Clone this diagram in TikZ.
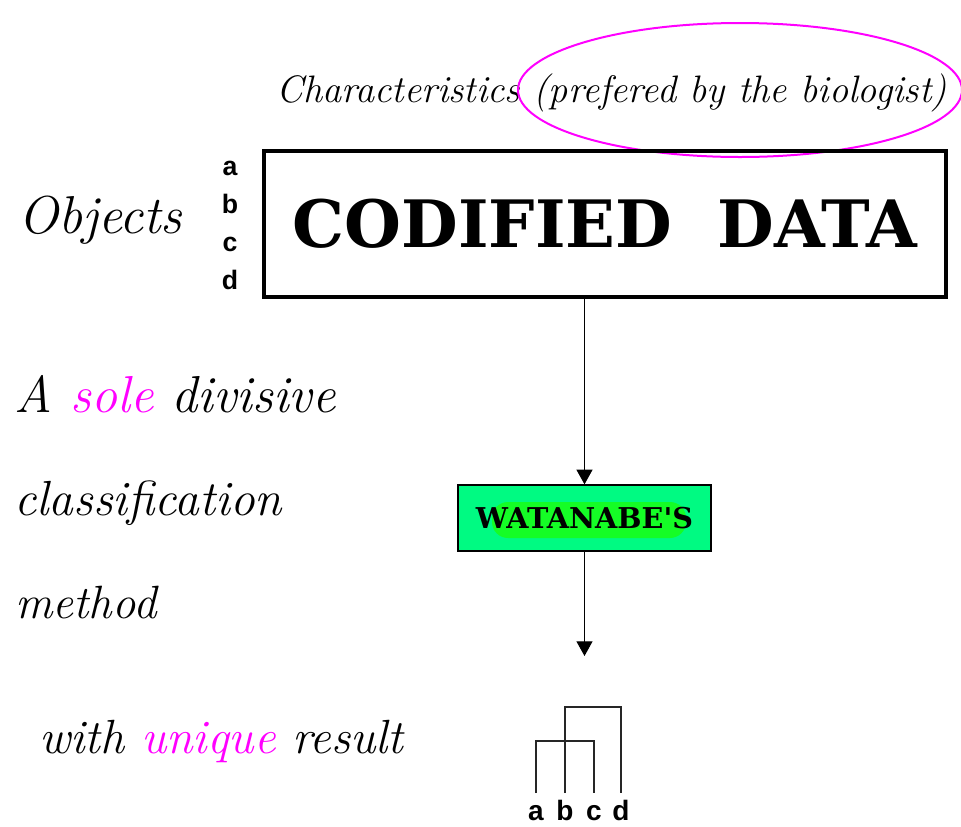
\documentclass[tikz,border=0pt]{standalone}
\usepackage{fontspec}
\newfontfamily\slabfont{DejaVu Serif}
\newfontfamily\lettersfont{Liberation Sans}
\usetikzlibrary{positioning,arrows.meta}

\definecolor{hotpink}{RGB}{255,0,255}
\definecolor{boxgreen}{RGB}{0,250,130}
\definecolor{glowgreen}{RGB}{30,255,0}

\begin{document}
\begin{tikzpicture}[x=0.75pt, y=-0.75pt, >={Triangle[length=11pt,width=12pt]},
  script/.style={anchor=base west, inner sep=0pt, font=\fontsize{#1}{#1}\selectfont\itshape},
  letter/.style={anchor=base, inner sep=0pt, font=\lettersfont\bfseries\fontsize{#1}{#1}\selectfont},
  leaf/.style={letter=#1, text height=20pt}]

\useasboundingbox (0,0) rectangle (961,826);

% headings and running text
\node [script=28.7] (charac) at (276,102) {Characteristics (prefered by the biologist)};
\draw [hotpink, line width=1.5pt] (740,90) ellipse [x radius=222, y radius=67];

\node [script=40] (objects) at (18,233) {Objects};
\node [script=39] (line-1) at (14,412) {A {\color{hotpink}sole} divisive};
\node [script=37] (line-2) at (14,515) {classification};
\node [script=35] (line-3) at (15,618) {method};
\node [script=36] (line-4) at (39,753) {with {\color{hotpink}unique} result};

% data table
\node [draw, line width=2.8pt, minimum width=512pt, minimum height=109pt,
       font=\slabfont\bfseries\fontsize{49}{49}\selectfont] (codified) at (605,224)
  {CODIFIED\ \ DATA};

\foreach \l [count=\i] in {a,b,c,d}
  \node [letter=20] (obj-\l) at (230,137+\i*38) {\l};

% method
\node [draw, line width=1.5pt, fill=boxgreen, minimum width=190pt, minimum height=49pt] (watanabe) at (584.5,518) {};
\fill [glowgreen, fill opacity=0.7, rounded corners=12pt] (492,502) rectangle (686,538);
\node [font=\slabfont\bfseries\fontsize{21.5}{21.5}\selectfont, inner sep=0pt] (watanabe-text) at (watanabe.center) {WATANABE'S};

\draw [->, line width=0.8pt] (watanabe.north |- codified.south) -- (watanabe.north);
\coordinate (result) at (584.5,656);
\draw [->, line width=0.8pt] (watanabe.south) -- (result);

% result (pyramid)
\foreach \l/\x in {a/536,b/565,c/594,d/621}
  \node [leaf=21] (leaf-\l) at (\x,820) {\l};

\draw [line width=1.5pt, black!85] (leaf-a.north) -- ++(0,-52) -| (leaf-c.north);
\draw [line width=1.5pt, black!85] (leaf-b.north) -- ++(0,-86) -| (leaf-d.north);

\end{tikzpicture}
\end{document}
